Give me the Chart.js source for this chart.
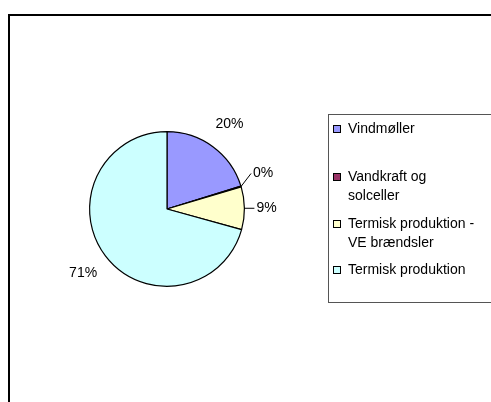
<!DOCTYPE html>
<html>
<head>
<meta charset="utf-8">
<script src="https://cdn.jsdelivr.net/npm/chart.js@4/dist/chart.umd.min.js"></script>
<style>
  html, body { margin: 0; padding: 0; background: #fff; }
  #wrap { width: 491px; height: 402px; position: relative; }
</style>
</head>
<body>
<div id="wrap"><canvas id="pie"></canvas></div>
<script>
const categories = ["Vindmøller", "Vandkraft og solceller", "Termisk produktion - VE brændsler", "Termisk produktion"];
const legendLines = [["Vindmøller"], ["Vandkraft og", "solceller"], ["Termisk produktion -", "VE brændsler"], ["Termisk produktion"]];
const shares = [20.2, 0.2, 8.9, 70.7];
const percentLabels = ["20%", "0%", "9%", "71%"];
const colors = ["#9999ff", "#993366", "#ffffcc", "#ccffff"];

const FONT = '"Liberation Sans", Arial, sans-serif';

// frame + legend box drawn behind the pie
const framePlugin = {
  id: "frame",
  beforeDraw(chart) {
    const ctx = chart.ctx;
    ctx.save();
    ctx.strokeStyle = "#000";
    ctx.lineWidth = 2;
    ctx.beginPath();
    ctx.moveTo(9, 410);
    ctx.lineTo(9, 15);
    ctx.lineTo(500, 15);
    ctx.stroke();

    // legend
    ctx.strokeStyle = "#555";
    ctx.lineWidth = 1;
    ctx.strokeRect(328.5, 114.5, 170, 188);
    const rows = [129, 177, 224, 270];
    ctx.font = "14px " + FONT;
    ctx.textBaseline = "middle";
    legendLines.forEach((lines, i) => {
      const y = rows[i];
      ctx.fillStyle = colors[i];
      ctx.fillRect(334, y - 3, 6, 6);
      ctx.strokeStyle = "#000";
      ctx.strokeRect(333.5, y - 3.5, 7, 7);
      ctx.fillStyle = "#000";
      lines.forEach((t, j) => ctx.fillText(t, 348, y + j * 19));
    });
    ctx.restore();
  }
};

// percentage labels outside the slices
const labelPlugin = {
  id: "pctLabels",
  afterDatasetsDraw(chart) {
    const ctx = chart.ctx;
    const meta = chart.getDatasetMeta(0);
    ctx.save();
    ctx.font = "14px " + FONT;
    ctx.fillStyle = "#000";
    ctx.strokeStyle = "#000";
    ctx.lineWidth = 1;
    ctx.textBaseline = "middle";
    meta.data.forEach((arc, i) => {
      const { x, y, startAngle, endAngle, outerRadius } = arc.getProps(["x", "y", "startAngle", "endAngle", "outerRadius"], true);
      const mid = (startAngle + endAngle) / 2;
      const cos = Math.cos(mid), sin = Math.sin(mid);
      if (shares[i] < 12) {
        const ex = x + cos * outerRadius, ey = y + sin * outerRadius;
        const lift = shares[i] < 2 ? 13 : 0;
        const lx = ex + 10, ly = ey - lift;
        ctx.beginPath();
        ctx.moveTo(ex, ey);
        ctx.lineTo(lx, ly);
        ctx.stroke();
        ctx.textAlign = "left";
        ctx.fillText(percentLabels[i], lx + 2, ly);
      } else {
        const r = outerRadius + 28;
        ctx.textAlign = "center";
        ctx.fillText(percentLabels[i], x + cos * r, y + sin * r);
      }
    });
    ctx.restore();
  }
};

new Chart(document.getElementById("pie"), {
  type: "pie",
  data: {
    labels: categories,
    datasets: [{
      data: shares,
      backgroundColor: colors,
      borderColor: "#000",
      borderWidth: 1.2
    }]
  },
  options: {
    responsive: true,
    maintainAspectRatio: false,
    animation: false,
    layout: { padding: { left: 89, right: 246, top: 131, bottom: 115 } },
    plugins: {
      legend: { display: false },
      tooltip: { enabled: false }
    }
  },
  plugins: [framePlugin, labelPlugin]
});
</script>
</body>
</html>
